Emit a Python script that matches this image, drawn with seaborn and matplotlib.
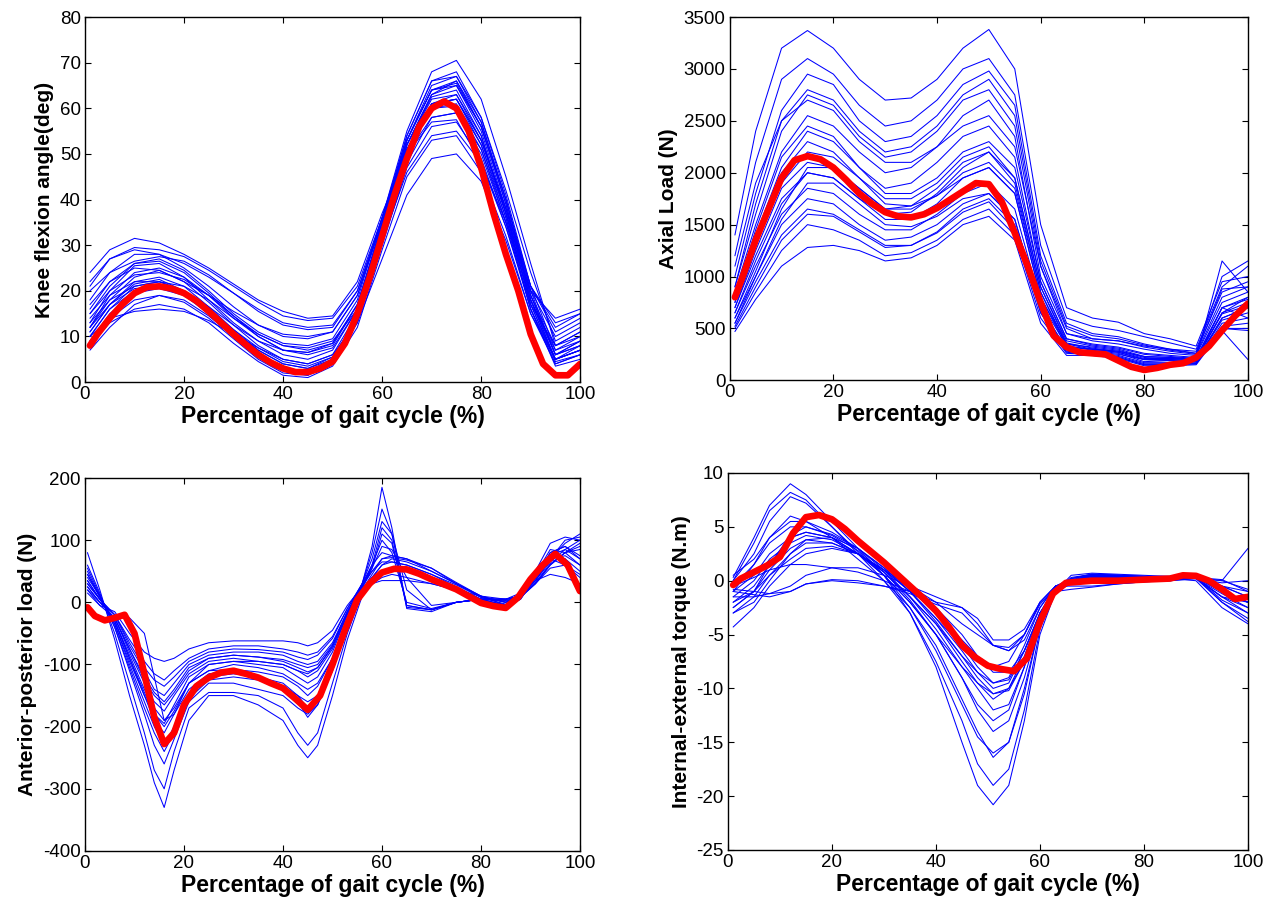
import numpy as np
import pandas as pd
import matplotlib
matplotlib.use("Agg")
import matplotlib.pyplot as plt
import seaborn as sns

# ---------------- data ----------------
knee_x = [1, 5, 10, 15, 20, 25, 30, 35, 40, 45, 50, 55, 60, 65, 70, 75, 80, 85, 90, 95, 100]
knee_curves = [
    [24, 29, 31.5, 30.5, 28, 25, 21.5, 18, 15.5, 14, 14.5, 22, 37, 50, 57, 57.5, 48, 35, 20, 14, 16],
    [21, 27, 29.5, 29, 27.5, 24.5, 21, 17.5, 14.5, 13.5, 14, 21, 36, 52, 62, 63, 53, 38, 21, 12, 15],
    [18, 24, 28, 28, 25, 21, 16.5, 12.5, 10, 9.5, 11, 19, 36, 54, 66, 68, 58, 42, 24, 9, 12],
    [15, 21, 26, 27, 24.5, 20, 15, 11, 8.5, 8, 9.5, 18, 36, 55, 68, 70.5, 62, 45, 26, 8, 10],
    [13, 20, 25.5, 26, 23, 18, 13, 9, 6, 5, 7, 16, 35, 54, 66, 67, 57, 40, 20, 6, 8],
    [12, 18, 23, 24.5, 22, 17.5, 12.5, 8, 5, 4, 6, 15, 34, 53, 64, 65, 55, 38, 18, 5, 7],
    [11, 17, 22, 23, 21, 16.5, 11.5, 7, 4, 3, 5, 14, 33, 52, 62.5, 64, 54, 37, 17, 4.5, 6],
    [10, 16, 20, 21.5, 20, 16, 11, 7, 4, 3, 5.5, 14, 32, 50, 60, 60.5, 51, 35, 16, 4, 6],
    [9, 14, 18, 19, 17.5, 14, 9.5, 5, 2, 1.5, 4, 13, 30, 47, 56, 57, 49, 34, 16, 5, 7],
    [8, 13, 16, 17, 16, 13, 8.5, 4.5, 1.5, 1, 3.5, 12, 29, 45, 53, 54, 46, 32, 15, 4, 6],
    [10, 14, 15.5, 16, 15.5, 13.5, 10.5, 7.5, 5, 4, 6, 13, 27, 41, 49, 50, 44, 31, 15, 5, 8],
    [14, 19, 22, 22, 20, 16.5, 12.5, 9, 7, 6.5, 8, 17, 34, 50, 58, 59, 50, 35, 18, 7, 9],
    [17, 22, 25, 24.5, 22, 19, 15.5, 12.5, 10.5, 10, 11, 19, 35, 51, 60, 61, 52, 37, 20, 10, 13],
    [20, 24, 26.5, 27.5, 26.5, 23.5, 19.5, 15.5, 12.5, 11.5, 12, 20, 36, 53, 64, 65.5, 56, 40, 21, 11, 14],
    [11, 17, 21.5, 22.5, 20, 15, 10, 5.5, 2.5, 2, 4, 14, 33, 52, 63, 66, 57, 40, 19, 6, 9],
    [16, 22, 26, 26.5, 24, 19.5, 14.5, 10, 7, 6.5, 8.5, 17, 35, 53, 65, 67, 58, 41, 21, 7, 10],
    [12, 19, 24, 25, 23, 19, 14, 10, 7, 6, 7.5, 16, 34, 53, 64, 66, 56, 39, 19, 6, 8],
    [9, 15, 19.5, 20.5, 19, 15, 10.5, 6, 3, 2.5, 5, 14, 32, 50, 61, 63, 54, 37, 17, 5, 7],
    [13, 18, 21, 22, 21, 18, 14, 10.5, 8, 7.5, 9, 16, 31, 46, 54, 55, 48, 34, 17, 8, 11],
    [7, 12, 17, 19, 18, 14.5, 10, 5.5, 2.5, 1.5, 4, 14, 33, 51, 61, 62, 52, 36, 16, 3.5, 5],
    [22, 27, 29, 28, 26, 23, 19.5, 16, 13, 12, 12.5, 20, 35, 51, 61, 62, 53, 38, 21, 13, 15],
    [10, 16, 21, 22, 20, 15.5, 10.5, 6, 3, 2, 4.5, 14, 33, 52, 63, 65, 56, 39, 18, 5, 7],
    [15, 20, 23.5, 24, 22.5, 19, 14.5, 10.5, 8, 7, 8.5, 17, 34, 51, 61, 62, 53, 37, 19, 8, 11],
    [12, 17, 20.5, 21, 19.5, 16, 11.5, 7.5, 4.5, 3.5, 5.5, 14, 31, 48, 58, 59, 51, 36, 18, 6, 9],
]
knee_mean_x = [1, 2.5, 5, 7.5, 10, 12.5, 15, 17.5, 20, 22.5, 25, 27.5, 30, 32.5, 35, 37.5, 40, 42.5, 45, 47.5,
               50, 52.5, 55, 57.5, 60, 62.5, 65, 67.5, 70, 72.5, 75, 77.5, 80, 82.5, 85, 87.5, 90, 92.5, 95, 97.5, 100]
knee_mean = [8, 10.5, 14, 17, 19.5, 20.8, 21, 20.5, 19.5, 17.8, 15.5, 13, 10.5, 8.2, 6, 4.3, 3, 2.2, 2.2, 3,
             4.5, 8.5, 15, 23, 32, 41, 49, 56, 60, 61.5, 60, 55, 47, 37, 28, 20, 10.5, 4, 1.5, 1.5, 4]

axial_x = [1, 5, 10, 15, 20, 25, 30, 35, 40, 45, 50, 55, 60, 65, 70, 75, 80, 85, 90, 95, 100]
axial_curves = [
    [1400, 2400, 3200, 3370, 3200, 2900, 2700, 2720, 2900, 3200, 3380, 3000, 1500, 700, 600, 560, 450, 400, 330, 950, 1000],
    [1200, 2100, 2900, 3100, 2950, 2650, 2450, 2500, 2700, 3000, 3100, 2750, 1300, 600, 520, 480, 420, 360, 300, 900, 1100],
    [1000, 1800, 2600, 2950, 2850, 2500, 2300, 2350, 2550, 2850, 2980, 2650, 1200, 550, 450, 420, 350, 300, 280, 850, 950],
    [900, 1600, 2400, 2750, 2650, 2350, 2150, 2200, 2400, 2700, 2800, 2450, 1100, 500, 400, 380, 320, 280, 250, 800, 900],
    [850, 1500, 2200, 2550, 2450, 2200, 2000, 2050, 2250, 2550, 2700, 2350, 1000, 450, 380, 350, 300, 260, 240, 750, 850],
    [800, 1400, 2050, 2400, 2300, 2050, 1850, 1900, 2100, 2350, 2450, 2150, 950, 400, 350, 320, 260, 240, 220, 700, 800],
    [750, 1300, 1900, 2200, 2150, 1950, 1750, 1750, 1900, 2150, 2250, 1950, 900, 380, 330, 300, 230, 220, 200, 650, 750],
    [700, 1200, 1750, 2000, 1950, 1750, 1550, 1550, 1700, 1950, 2050, 1800, 800, 350, 300, 270, 200, 200, 190, 600, 700],
    [650, 1100, 1600, 1850, 1800, 1600, 1450, 1450, 1600, 1800, 1900, 1650, 750, 330, 290, 260, 180, 190, 180, 580, 650],
    [600, 1000, 1500, 1750, 1700, 1500, 1350, 1380, 1500, 1700, 1800, 1550, 700, 300, 270, 240, 170, 170, 170, 550, 600],
    [550, 950, 1400, 1650, 1600, 1450, 1300, 1300, 1420, 1620, 1720, 1450, 650, 280, 260, 230, 160, 160, 160, 520, 550],
    [500, 850, 1250, 1500, 1450, 1350, 1200, 1230, 1350, 1550, 1650, 1400, 600, 260, 250, 220, 150, 150, 160, 500, 500],
    [470, 780, 1100, 1280, 1300, 1250, 1150, 1180, 1300, 1500, 1580, 1350, 550, 240, 240, 210, 140, 140, 150, 480, 200],
    [1100, 1900, 2500, 2700, 2600, 2300, 2100, 2100, 2250, 2450, 2550, 2250, 1100, 450, 400, 380, 330, 300, 260, 1000, 1150],
    [550, 1000, 1550, 1900, 1900, 1700, 1500, 1480, 1580, 1750, 1800, 1550, 700, 300, 280, 250, 200, 190, 180, 600, 700],
    [650, 1150, 1700, 2000, 1950, 1750, 1600, 1620, 1800, 2050, 2200, 1900, 850, 350, 320, 290, 220, 210, 200, 650, 800],
    [750, 1350, 2000, 2300, 2200, 1950, 1700, 1680, 1780, 1950, 2050, 1800, 800, 320, 300, 280, 230, 220, 210, 1150, 850],
    [600, 1050, 1650, 2050, 2050, 1850, 1650, 1650, 1780, 2000, 2100, 1850, 850, 330, 300, 270, 200, 200, 190, 700, 600],
    [900, 1700, 2500, 2800, 2700, 2400, 2200, 2250, 2450, 2750, 2900, 2550, 1150, 520, 430, 400, 340, 290, 260, 880, 900],
    [700, 1250, 1850, 2100, 2050, 1850, 1650, 1680, 1850, 2100, 2200, 1950, 900, 360, 310, 280, 210, 210, 200, 640, 720],
    [520, 900, 1350, 1600, 1580, 1430, 1280, 1300, 1430, 1650, 1750, 1500, 650, 270, 250, 220, 150, 150, 160, 500, 480],
    [800, 1450, 2150, 2450, 2350, 2050, 1800, 1800, 1950, 2200, 2300, 2050, 950, 400, 340, 310, 250, 230, 210, 700, 780],
]
axial_mean_x = knee_mean_x
axial_mean = [800, 1000, 1350, 1650, 1950, 2120, 2160, 2130, 2050, 1930, 1800, 1700, 1620, 1580, 1570, 1600, 1660,
              1740, 1820, 1900, 1890, 1720, 1420, 1100, 750, 430, 320, 270, 260, 250, 190, 130, 100, 120, 150,
              165, 220, 330, 480, 620, 740]

ap_x = [0.5, 3, 6, 9, 12, 14, 16, 18, 21, 25, 30, 35, 40, 43, 45, 47, 50, 53, 56, 58, 60, 62, 65, 70, 75, 80,
        85, 88, 91, 94, 97, 100]
ap_curves = [
    [80, 20, -60, -150, -230, -290, -330, -270, -190, -150, -150, -165, -190, -230, -250, -230, -150, -60, 10, 30, 40, 45, 40, 30, 20, 5, -5, 5, 40, 80, 90, 70],
    [60, 15, -50, -130, -210, -270, -300, -240, -170, -145, -145, -150, -170, -210, -230, -210, -130, -50, 15, 35, 45, 50, 50, 40, 25, 5, -5, 10, 45, 85, 80, 60],
    [40, 10, -40, -110, -180, -230, -260, -220, -160, -130, -130, -140, -150, -170, -180, -165, -110, -40, 20, 40, 60, 70, 65, 50, 30, 10, -5, 10, 50, 95, 105, 100],
    [30, 5, -30, -90, -150, -190, -210, -180, -130, -110, -100, -105, -115, -130, -140, -130, -90, -30, 25, 60, 100, 80, 0, -10, 0, 5, 5, 10, 30, 60, 80, 90],
    [25, 0, -25, -80, -130, -160, -175, -150, -115, -95, -90, -95, -100, -110, -120, -110, -75, -20, 30, 80, 150, 110, -5, -12, 0, 5, 5, 10, 35, 70, 95, 110],
    [30, 5, -20, -70, -110, -140, -150, -130, -100, -85, -80, -80, -85, -95, -100, -95, -65, -15, 30, 90, 185, 120, -10, -15, 0, 5, 5, 8, 30, 60, 80, 85],
    [20, 0, -20, -60, -95, -115, -125, -110, -90, -75, -70, -70, -75, -80, -85, -80, -55, -10, 30, 60, 80, 75, 70, 50, 30, 10, 0, 10, 40, 75, 70, 50],
    [15, -5, -15, -50, -80, -90, -95, -90, -75, -65, -62, -62, -62, -65, -70, -65, -45, -5, 25, 30, 35, 35, 35, 30, 20, 10, 5, 15, 35, 45, 40, 30],
    [-5, -25, -25, -25, -50, -120, -190, -180, -140, -115, -110, -120, -135, -150, -160, -150, -100, -30, 20, 40, 50, 55, 52, 40, 22, 3, -8, 5, 40, 75, 70, 20],
    [50, 10, -35, -100, -160, -200, -230, -200, -150, -120, -115, -120, -130, -150, -170, -150, -100, -30, 20, 40, 60, 65, 60, 45, 25, 5, -5, 10, 40, 70, 60, 40],
    [35, 5, -30, -85, -140, -170, -190, -170, -130, -100, -95, -100, -105, -120, -130, -120, -80, -20, 25, 60, 120, 100, -8, -12, 0, 5, 5, 10, 35, 65, 85, 100],
    [45, 10, -35, -95, -150, -180, -195, -165, -120, -100, -95, -95, -100, -110, -115, -105, -70, -15, 25, 50, 70, 72, 68, 55, 32, 10, 0, 10, 40, 80, 90, 75],
    [55, 12, -40, -105, -170, -210, -240, -210, -155, -125, -120, -125, -140, -160, -185, -165, -110, -35, 20, 45, 70, 75, 70, 55, 30, 8, -3, 10, 40, 75, 85, 70],
    [25, 0, -25, -75, -120, -145, -160, -140, -105, -90, -85, -88, -92, -100, -105, -100, -68, -15, 28, 55, 90, 85, 40, -5, 0, 5, 2, 8, 30, 55, 60, 45],
    [35, 5, -20, -65, -105, -125, -135, -120, -95, -80, -75, -76, -80, -88, -92, -85, -58, -10, 30, 70, 130, 110, 20, -12, 0, 5, 5, 10, 35, 70, 100, 105],
    [20, -5, -25, -75, -125, -150, -165, -145, -110, -90, -85, -88, -95, -105, -112, -105, -72, -18, 28, 50, 65, 65, 60, 45, 28, 8, 0, 10, 38, 70, 75, 60],
    [45, 8, -30, -90, -145, -180, -200, -175, -130, -110, -108, -112, -120, -135, -150, -135, -90, -25, 22, 55, 110, 95, -5, -12, 0, 5, 3, 9, 32, 62, 80, 95],
]
ap_mean_x = [0.5, 2, 4, 6, 8, 10, 12, 14, 16, 18, 20, 22.5, 25, 27.5, 30, 32.5, 35, 37.5, 40, 42.5, 45, 47.5, 50,
             52.5, 55, 57.5, 60, 62.5, 65, 67.5, 70, 72.5, 75, 77.5, 80, 82.5, 85, 87.5, 90, 92.5, 95, 97.5, 100]
ap_mean = [-8, -22, -29, -25, -20, -50, -115, -185, -228, -210, -165, -135, -121, -113, -110, -115, -121, -130, -138,
           -155, -173, -150, -100, -45, 4, 30, 48, 54, 53, 46, 37, 29, 21, 10, -1, -6, -9, 8, 37, 60, 78, 60, 18]

tq_x = [1, 5, 8, 12, 15, 20, 25, 30, 35, 40, 45, 48, 51, 54, 57, 60, 63, 66, 70, 75, 80, 85, 90, 95, 100]
tq_curves = [
    [0.3, 4, 7, 9, 8, 5.5, 3, 0.5, -3, -8, -15, -19, -20.8, -19, -13, -5, -1, 0.5, 0.7, 0.6, 0.5, 0.4, 0.3, -2, -3.5],
    [0, 3.5, 6.5, 8.2, 7.5, 5, 2.5, 0, -3, -7.5, -13, -17, -19, -17.5, -12, -4.5, -1, 0.3, 0.6, 0.5, 0.4, 0.3, 0.2, -1.5, -3],
    [-1, 1.5, 4, 6, 5.5, 4, 2, 0, -2.5, -6, -11, -14, -16.4, -15, -10, -4, -1, 0, 0.5, 0.4, 0.3, 0.2, 0.3, -1, -2],
    [-2, -0.5, 1.5, 4, 4.5, 4, 2.5, 0.5, -2, -5, -9, -11.5, -13, -12, -8, -3, -0.5, 0.2, 0.6, 0.5, 0.4, 0.4, 0.3, -1.5, -2.5],
    [-3, -1.5, 0.5, 2.5, 3.5, 3.5, 2.5, 0.8, -1.5, -4, -7.5, -9.5, -11, -10, -7, -3, -0.8, 0, 0.5, 0.5, 0.3, 0.2, 0.2, -2, -3.8],
    [-4.3, -2.5, -0.5, 1.5, 2.5, 3, 2.5, 1, -1, -3.5, -6, -8, -9.5, -9, -6, -2.5, -0.5, 0, 0.4, 0.3, 0.2, 0.2, 0, -2.5, -4],
    [-1, -1.3, -1.5, -1, -0.3, 0, -0.2, -0.5, -1, -2, -2.5, -3.5, -5.5, -5.5, -4.5, -2, -0.5, -0.2, -0.2, 0, 0.2, 0.2, 0.3, 0.1, -1],
    [-1.5, -1.5, -1.2, -0.5, 0.5, 1.2, 1.2, 0.5, -0.5, -1.5, -2.5, -4, -6, -6.5, -5, -2, -0.5, 0, 0.2, 0.2, 0.3, 0.3, 0.3, -0.5, -1.5],
    [-0.5, 0.3, 1, 1.5, 1.5, 1.2, 0.8, 0, -1, -2.5, -5, -7, -8, -7.5, -5, -2, -0.5, -0.5, -0.5, -0.3, -0.1, 0, 0.2, -0.2, 0],
    [-2.5, -1, 1, 3, 3.8, 3.5, 2.5, 1, -1, -3.5, -6.5, -8.5, -10, -9.5, -6.5, -3, -1, -0.8, -0.6, -0.3, -0.1, 0, 0.2, 0, 3],
    [0.5, 2, 4, 5.5, 5.5, 4.5, 3, 1, -1.5, -4.5, -8, -10, -12, -11.5, -8, -3.5, -1, 0.2, 0.5, 0.5, 0.4, 0.3, 0.4, -0.5, -1],
    [-1, 0.5, 2.5, 4, 4.5, 4, 2.5, 0.5, -2, -5, -8, -9.5, -10.5, -10, -7.5, -3, -1, -0.3, 0, 0.2, 0.3, 0.3, 0.3, -1, -2],
    [-2, -1, 0.5, 2, 3, 3.2, 2.5, 1, -0.5, -2, -4, -5, -6, -6.5, -5.5, -2.5, -0.5, 0, 0.3, 0.3, 0.3, 0.2, 0.3, -0.5, -1.5],
    [-3, -2, 0, 2.5, 3.8, 4, 3, 1.2, -0.8, -3, -5.5, -7, -8.5, -8.5, -6.5, -3, -0.8, 0, 0.4, 0.4, 0.3, 0.3, 0.2, -1.5, -2],
    [0, 2.5, 5.5, 7.8, 7.2, 5, 2.7, 0.5, -2.5, -6.5, -11.5, -14.5, -16, -15, -10.5, -4, -1, 0.2, 0.6, 0.5, 0.4, 0.3, 0.3, -1, -2],
    [-1.5, 0, 2, 3.5, 4.2, 3.8, 2.5, 0.8, -1.5, -4, -7, -8.5, -9.5, -9.2, -6.5, -3, -1, 0, 0.4, 0.4, 0.3, 0.3, 0.3, -1.8, -3],
    [-0.8, -1, -1.2, -1, -0.3, 0.1, 0, -0.5, -1.2, -2.2, -3, -4.5, -6, -6.2, -5, -2.2, -0.6, -0.2, -0.1, 0.1, 0.2, 0.3, 0.3, 0, -0.8],
    [-2.5, -1, 1.5, 4.2, 5, 4.3, 3, 1.2, -1, -3.8, -7, -9, -10.5, -10.2, -7.5, -3.2, -1, 0, 0.4, 0.4, 0.3, 0.3, 0.2, -1.2, -2.5],
    [-0.5, 1.5, 3.5, 5, 5, 4.2, 2.8, 0.8, -1.8, -5, -9, -12, -14, -13, -9, -3.8, -1, 0.1, 0.5, 0.4, 0.3, 0.3, 0.3, -1, -2],
]
tq_mean_x = knee_mean_x
tq_mean = [-0.4, 0.2, 0.8, 1.4, 2.2, 4.4, 5.9, 6.1, 5.7, 4.8, 3.7, 2.7, 1.7, 0.6, -0.5, -1.6, -2.8, -4.3, -6, -7.1,
           -7.9, -8.2, -8.4, -7.2, -3.8, -1.2, -0.2, -0.1, 0, 0, 0, 0.05, 0.1, 0.15, 0.2, 0.5, 0.45, 0, -0.8, -1.7, -1.5]

x_label = "Percentage of gait cycle (%)"
y_labels = ["Knee flexion angle(deg)", "Axial Load (N)", "Anterior-posterior load (N)",
            "Internal-external torque (N.m)"]
y_limits = [(0, 80), (0, 3500), (-400, 200), (-25, 10)]
y_steps = [10, 500, 100, 5]

# ---------------- style ----------------
sns.set_style("ticks")
plt.rcParams["font.family"] = ["Liberation Sans", "DejaVu Sans"]
plt.rcParams["axes.unicode_minus"] = False
plt.rcParams["text.color"] = "black"
plt.rcParams["axes.labelcolor"] = "black"
plt.rcParams["xtick.color"] = "black"
plt.rcParams["ytick.color"] = "black"

fig = plt.figure(figsize=(12.78, 8.97), dpi=100)
positions = [
    [0.0665, 0.574, 0.3875, 0.407],
    [0.571, 0.576, 0.4055, 0.405],
    [0.0665, 0.0513, 0.3873, 0.4158],
    [0.5696, 0.0524, 0.4069, 0.4203],
]
panels = [
    (knee_x, knee_curves, knee_mean_x, knee_mean),
    (axial_x, axial_curves, axial_mean_x, axial_mean),
    (ap_x, ap_curves, ap_mean_x, ap_mean),
    (tq_x, tq_curves, tq_mean_x, tq_mean),
]

for i, (px, curves, mx, my) in enumerate(panels):
    ax = fig.add_axes(positions[i])
    rows = []
    for cid, c in enumerate(curves):
        for xv, yv in zip(px, c):
            rows.append((cid, xv, yv))
    df = pd.DataFrame(rows, columns=["curve", "x", "y"])
    sns.lineplot(data=df, x="x", y="y", units="curve", estimator=None, color="#0000ff",
                 lw=0.75, ax=ax, legend=False)
    sns.lineplot(x=mx, y=my, color="#ff0000", lw=4.8, ax=ax, legend=False, solid_capstyle="round")
    ax.set_xlim(0, 100)
    lo, hi = y_limits[i]
    ax.set_ylim(lo, hi)
    ax.set_xticks(np.arange(0, 101, 20))
    ax.set_yticks(np.arange(lo, hi + 0.001, y_steps[i]))
    ax.tick_params(direction="in", top=True, right=True, length=4, width=0.8,
                   labelsize=13.5, pad=3, colors="black", labelcolor="black")
    for s in ax.spines.values():
        s.set_visible(True)
        s.set_linewidth(1.0)
        s.set_color("black")
    ax.set_xlabel(x_label, fontsize=16.5, fontweight="bold", labelpad=1, color="black")
    ax.set_ylabel(y_labels[i], fontsize=15, fontweight="bold", labelpad=4, color="black")

fig.savefig("out.png", dpi=100)
